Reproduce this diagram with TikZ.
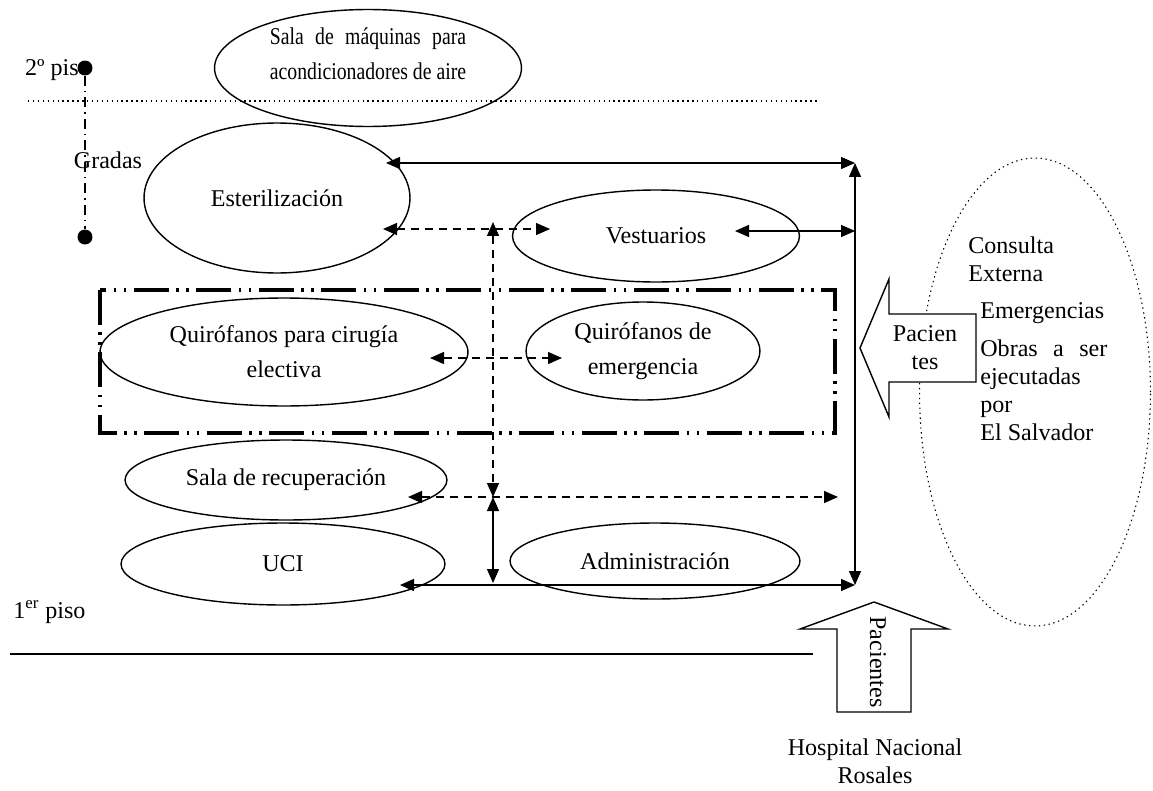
\documentclass[tikz,border=0pt]{standalone}
\usepackage{fontspec}
\usepackage{calc}
\setmainfont{Liberation Serif}
\newfontfamily\condfont[FakeStretch=0.82]{Liberation Serif}
\usetikzlibrary{arrows.meta,shapes.geometric}

\tikzset{
  area/.style={ellipse, draw, line width=0.8pt, inner sep=0pt, align=center,
    font=\fontsize{13.7}{20}\selectfont},
  lbl/.style={inner sep=0pt, font=\fontsize{13.7}{16}\selectfont},
  flow/.style={line width=0.8pt,
    {Triangle[length=2.8mm,width=2.4mm]}-{Triangle[length=2.8mm,width=2.4mm]}},
  dflow/.style={flow, dash pattern=on 1.6mm off 1.2mm},
  stairdot/.style={circle, fill, inner sep=0pt, minimum size=3mm},
  bigarrow/.style={draw, line width=0.8pt, fill=white}
}

\begin{document}
\begin{tikzpicture}[x=0.02cm, y=-0.02cm]
        \useasboundingbox (0,0) rectangle (1153,791);

        \draw[dotted, line width=0.8pt] (28,101) -- (818,101);
        \draw[line width=1.1pt] (10,654) -- (813,654);

        \node[lbl, anchor=east] (piso2) at (79,70) {2º pis};
        \node[lbl, anchor=west] (piso1) at (13,612) {1\textsuperscript{er} piso};
        \node[stairdot] (s2) at (85,68) {};
        \node[stairdot] (s1) at (85,237) {};
        \draw[line width=0.6pt, dash pattern=on 2mm off 1mm on 0.3mm off 1mm] (s2) -- (s1);
        \node[lbl] (gradas) at (108,160) {Gradas};

        \node[area, minimum width=6.14cm, minimum height=2.34cm] (maq) at (368,68) {};
        \node[lbl, align=center, font=\condfont\fontsize{13.7}{20}\selectfont] (maqtxt) at (368,54)
            {\makebox[\widthof{acondicionadores de aire}][s]{Sala de máquinas para}\\acondicionadores de aire};
        \node[area, minimum width=5.32cm, minimum height=3cm] (est) at (277,198) {Esterilización};
        \node[area, minimum width=5.74cm, minimum height=1.84cm] (vest) at (656,236) {Vestuarios};
        \node[area, minimum width=7.36cm, minimum height=2.16cm] (qel) at (284,352) {Quirófanos para cirugía\\electiva};
        \node[area, minimum width=4.68cm, minimum height=1.96cm] (qem) at (643,351) {Quirófanos de\\emergencia};
        \node[area, minimum width=6.44cm, minimum height=1.6cm] (rec) at (286,480) {Sala de recuperación};
        \node[area, minimum width=6.48cm, minimum height=1.64cm] (uci) at (283,564) {UCI};
        \node[area, minimum width=5.8cm, minimum height=1.52cm] (adm) at (655,561) {Administración};

        \draw[line width=1.8pt, dash pattern=on 7mm off 1.5mm on 0.5mm off 1.5mm on 0.5mm off 1.5mm]
            (100,290) rectangle (835,433);

        \coordinate (est1) at (386,163);
        \coordinate (est2) at (383,229);
        \coordinate (vest1) at (550,229);
        \coordinate (vest2) at (735,231);
        \coordinate (qel1) at (430,358);
        \coordinate (qem1) at (562,358);
        \coordinate (rec1) at (408,497);
        \coordinate (rec2) at (838,497);
        \coordinate (uci1) at (400,585);
        \coordinate (hubtop) at (493,222);
        \coordinate (hub) at (493,497);
        \coordinate (hubbot) at (493,583);
        \coordinate (rtop) at (855,163);
        \coordinate (rmid) at (855,231);
        \coordinate (rbot) at (855,585);

        \draw[flow] (rtop) -- (rbot);
        \draw[flow] (est1) -- (rtop);
        \draw[flow] (vest2) -- (rmid);
        \draw[flow] (uci1) -- (rbot);
        \draw[flow] (hub) -- (hubbot);
        \draw[dflow] (est2) -- (vest1);
        \draw[dflow] (hubtop) -- (hub);
        \draw[dflow] (qel1) -- (qem1);
        \draw[dflow] (rec1) -- (rec2);

        \node[area, dotted, line width=0.6pt, minimum width=4.62cm, minimum height=9.36cm] (ext) at (1035,392) {};
        \node[lbl, anchor=west, align=left] (consulta) at (968,259) {Consulta\\Externa};
        \node[lbl, anchor=west] (emerg) at (980,313) {Emergencias};
        \node[lbl, anchor=west, align=left] (obras) at (980,390)
            {\makebox[2.54cm][s]{Obras a ser}\\ejecutadas\\por\\El Salvador};

        \draw[bigarrow] (860,348) -- (889,279) -- (889,314) -- (976,314) -- (976,382) -- (889,382) -- (889,417) -- cycle;
        \node[lbl, align=center] (pac1) at (925,348) {Pacien\\tes};

        \draw[bigarrow] (874,602) -- (948,629) -- (911,629) -- (911,712) -- (837,712) -- (837,629) -- (800,629) -- cycle;
        \node[lbl, rotate=-90] (pac2) at (878,662) {Pacientes};
        \node[lbl, align=center] (hnr) at (875,761) {Hospital Nacional\\Rosales};

    \end{tikzpicture}
\end{document}
